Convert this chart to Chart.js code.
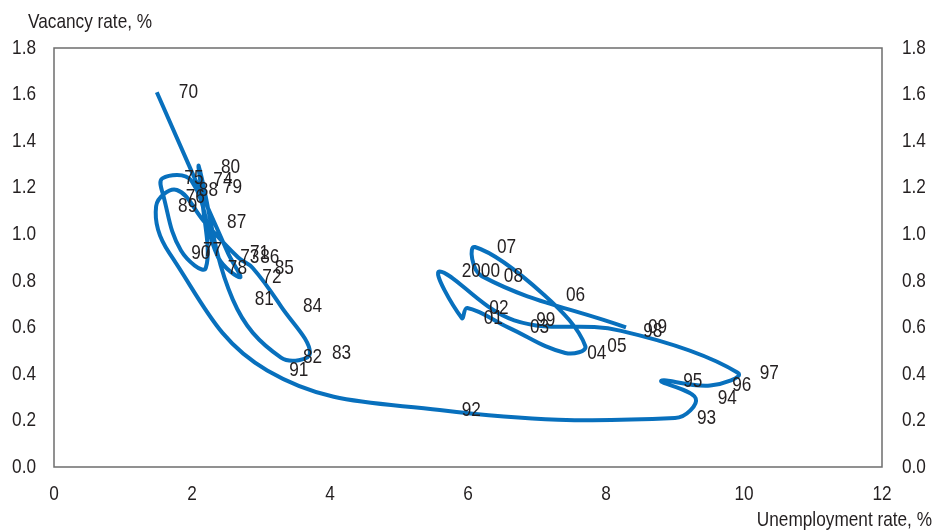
<!DOCTYPE html>
<html>
<head>
<meta charset="utf-8">
<script src="https://cdn.jsdelivr.net/npm/chart.js@4.4.1/dist/chart.umd.min.js"></script>
<style>
  html, body { margin: 0; padding: 0; background: #fff; }
  #wrap { width: 936px; height: 530px; position: relative; }
</style>
</head>
<body>
<div id="wrap"><canvas id="chart"></canvas></div>
<script>
// Beveridge curve: unemployment rate vs vacancy rate, 1970-2009
const yearLabels = ['70','71','72','73','74','75','76','77','78','79',
                    '80','81','82','83','84','85','86','87','88','89',
                    '90','91','92','93','94','95','96','97','98','99',
                    '2000','01','02','03','04','05','06','07','08','09'];
const unemployment = [1.49, 2.52, 2.70, 2.38, 1.99, 1.57, 1.59, 1.84, 2.20, 2.13,
                      2.10, 2.59, 3.29, 3.71, 3.29, 2.88, 2.67, 2.19, 1.78, 1.48,
                      1.67, 3.09, 5.59, 9.00, 9.30, 8.80, 9.51, 9.91, 8.22, 6.67,
                      5.59, 5.91, 5.99, 6.58, 7.41, 7.70, 7.10, 6.10, 6.20, 8.29];
const vacancy = [1.61, 0.92, 0.815, 0.90, 1.23, 1.24, 1.16, 0.93, 0.855, 1.20,
                 1.29, 0.72, 0.47, 0.49, 0.69, 0.855, 0.90, 1.05, 1.19, 1.12,
                 0.92, 0.415, 0.245, 0.21, 0.295, 0.37, 0.35, 0.405, 0.585, 0.63,
                 0.84, 0.64, 0.683, 0.60, 0.49, 0.52, 0.74, 0.945, 0.82, 0.60];
const xMin = 0, xMax = 12, xStep = 2;
const yMin = 0, yMax = 1.8, yStep = 0.2;

// narrow look: Arial-metric font squeezed horizontally
const FONT = "'Liberation Sans', Arial, sans-serif";
const FSIZE = 21;
const SQUEEZE = 0.82;
const TEXT = '#231f20';

const points = unemployment.map((u, i) => ({ x: u, y: vacancy[i] }));

function narrowText(ctx, s, x, y, align) {
  ctx.save();
  ctx.translate(x, y);
  ctx.scale(SQUEEZE, 1);
  ctx.textAlign = align;
  ctx.fillText(s, 0, 0);
  ctx.restore();
}

const extras = {
  id: 'extras',
  afterDatasetsDraw(chart) {
    const ctx = chart.ctx;
    const a = chart.chartArea;
    ctx.save();
    // frame
    ctx.strokeStyle = '#6d6d6d';
    ctx.lineWidth = 1.5;
    ctx.strokeRect(a.left, a.top, a.right - a.left, a.bottom - a.top);

    ctx.fillStyle = TEXT;
    ctx.font = FSIZE + 'px ' + FONT;
    ctx.textBaseline = 'middle';

    // tick labels from the scales
    const sx = chart.scales.x, sy = chart.scales.y, sy2 = chart.scales.y2;
    sx.ticks.forEach(t => narrowText(ctx, String(t.value), sx.getPixelForValue(t.value), a.bottom + 27, 'center'));
    sy.ticks.forEach(t => narrowText(ctx, t.value.toFixed(1), a.left - 18, sy.getPixelForValue(t.value), 'right'));
    sy2.ticks.forEach(t => narrowText(ctx, t.value.toFixed(1), a.right + 20, sy2.getPixelForValue(t.value), 'left'));

    // year labels next to each point
    const meta = chart.getDatasetMeta(0);
    meta.data.forEach((pt, i) => narrowText(ctx, yearLabels[i], pt.x + 22, pt.y, 'left'));

    // axis titles
    narrowText(ctx, 'Vacancy rate, %', 28, 22, 'left');
    narrowText(ctx, 'Unemployment rate, %', 932, 520, 'right');
    ctx.restore();
  }
};

new Chart(document.getElementById('chart'), {
  type: 'scatter',
  data: {
    datasets: [{
      data: points,
      showLine: true,
      borderColor: '#0870bd',
      borderWidth: 4,
      pointRadius: 0,
      tension: 0.4,
      fill: false
    }]
  },
  options: {
    responsive: true,
    maintainAspectRatio: false,
    animation: false,
    layout: { padding: { top: 48, left: 0, right: 0, bottom: 0 } },
    plugins: { legend: { display: false }, tooltip: { enabled: false } },
    scales: {
      x: {
        type: 'linear', min: xMin, max: xMax,
        grid: { display: false }, border: { display: false },
        ticks: { stepSize: xStep, display: false },
        afterFit: s => { s.height = 63; }
      },
      y: {
        position: 'left', min: yMin, max: yMax,
        grid: { display: false }, border: { display: false },
        ticks: { stepSize: yStep, display: false },
        afterFit: s => { s.width = 54; }
      },
      y2: {
        position: 'right', min: yMin, max: yMax,
        grid: { display: false }, border: { display: false },
        ticks: { stepSize: yStep, display: false },
        afterFit: s => { s.width = 54; }
      }
    }
  },
  plugins: [extras]
});
</script>
</body>
</html>
